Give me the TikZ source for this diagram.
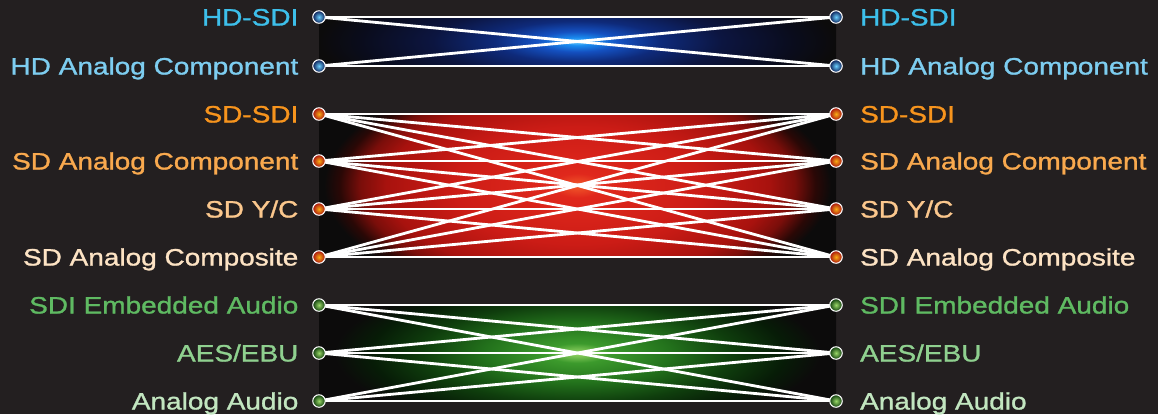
\documentclass[tikz,border=0pt]{standalone}
\usepackage{fontspec}
\setmainfont{Liberation Sans}[FakeStretch=1.18,FakeBold=1.2]
\usepackage{tikz}
\usetikzlibrary{positioning,backgrounds}
\definecolor{mxbg}{HTML}{231F20}
\definecolor{mxedge}{HTML}{0C0B0B}
% label colours
\definecolor{hdone}{HTML}{3DBFEA}
\definecolor{hdtwo}{HTML}{7DCDF0}
\definecolor{sdone}{HTML}{F7941D}
\definecolor{sdtwo}{HTML}{F9A94E}
\definecolor{sdthree}{HTML}{FBC78D}
\definecolor{sdfour}{HTML}{FDE3C4}
\definecolor{auone}{HTML}{5FBA62}
\definecolor{autwo}{HTML}{8FD08F}
\definecolor{authree}{HTML}{C2E6C0}
% glow colours
\definecolor{hdA}{HTML}{6CD0FF}
\definecolor{hdB}{HTML}{1A8CF0}
\definecolor{hdC}{HTML}{1450C0}
\definecolor{hdD}{HTML}{0E2A7A}
\definecolor{hdE}{HTML}{0C1540}
\definecolor{hdF}{HTML}{0A0C1C}
\definecolor{sdA}{HTML}{F25A2A}
\definecolor{sdB}{HTML}{E0281C}
\definecolor{sdC}{HTML}{CC1C16}
\definecolor{sdD}{HTML}{A8120E}
\definecolor{sdE}{HTML}{7A0E0A}
\definecolor{sdF}{HTML}{2A0806}
\definecolor{auA}{HTML}{9AD868}
\definecolor{auB}{HTML}{3C9A2C}
\definecolor{auC}{HTML}{23721C}
\definecolor{auD}{HTML}{0F3E0D}
\definecolor{auE}{HTML}{071C07}
% the central 50bp square of a shading is fitted to the path
\pgfdeclareradialshading{hdglow}{\pgfpoint{0bp}{0bp}}{color(0bp)=(hdA); color(1.5bp)=(hdB); color(4bp)=(hdC); color(8bp)=(hdD); color(14bp)=(hdE); color(21bp)=(hdF); color(25bp)=(mxedge); color(50bp)=(mxedge)}
\pgfdeclareradialshading{sdglow}{\pgfpoint{0bp}{0bp}}{color(0bp)=(sdA); color(2.5bp)=(sdB); color(12bp)=(sdC); color(18.5bp)=(sdD); color(21bp)=(sdE); color(23bp)=(sdF); color(24.5bp)=(mxedge); color(50bp)=(mxedge)}
\pgfdeclareradialshading{auglow}{\pgfpoint{0bp}{0bp}}{color(0bp)=(auA); color(3bp)=(auB); color(9bp)=(auC); color(15bp)=(auD); color(20bp)=(auE); color(23.5bp)=(mxedge); color(50bp)=(mxedge)}

\begin{document}
\begin{tikzpicture}[
  x=0.02cm,y=-0.02cm,
  every node/.style={font=\fontsize{13.5}{16}\selectfont},
  port/.style={circle,draw=white,line width=0.6pt,minimum size=0.25cm,inner sep=0pt},
  hdport/.style={port,inner color=hdA,outer color=hdD!70!black},
  sdport/.style={port,inner color=sdA!50!yellow,outer color=sdD},
  auport/.style={port,inner color=auA,outer color=auD},
  lbl/.style={inner sep=0pt,text height=0.34cm,text depth=0pt},
  wire/.style={draw=white,line width=1.6pt}
]
\useasboundingbox (0,0) rectangle (1158,414);

%% ---- backdrop and glow panels ----
\begin{scope}[on background layer]
\fill[mxbg] (0,0) rectangle (1158,414);
\foreach \ya/\yb/\glow/\f in {17/66/hdglow/2.6,114/257/sdglow/1.7,305/401/auglow/1.7}{
  \pgfmathsetmacro{\yc}{(\ya+\yb)/2}
  \pgfmathsetmacro{\hh}{(\yb-\ya)/2*\f}
  \begin{scope}
    \clip (319,\ya) rectangle (836,\yb);
    \shade[shading=\glow] (319,\yc-\hh) rectangle (836,\yc+\hh);
  \end{scope}
}
\end{scope}

%% ---- ports ----
\foreach \i/\y/\st in {1/17/hdport,2/66/hdport,3/114/sdport,4/161/sdport,5/209/sdport,
                       6/257/sdport,7/305/auport,8/353/auport,9/401/auport}{
  \node[\st] (in\i)  at (319,\y) {};
  \node[\st] (out\i) at (836,\y) {};
}

%% ---- labels ----
\foreach \i/\txt/\col in {1/HD-SDI/hdone,2/HD Analog Component/hdtwo,3/SD-SDI/sdone,
      4/SD Analog Component/sdtwo,5/{SD Y/C}/sdthree,6/SD Analog Composite/sdfour,
      7/SDI Embedded Audio/auone,8/{AES/EBU}/autwo,9/Analog Audio/authree}{
  \node[lbl,text=\col,left=0.27cm of in\i] (inlbl\i) {\txt};
  \node[lbl,text=\col,right=0.34cm of out\i] (outlbl\i) {\txt};
}

%% ---- routing wires ----
\begin{scope}[on background layer]
\foreach \lo/\hi in {1/2,3/6,7/9}{
  \foreach \a in {\lo,...,\hi}{
    \foreach \b in {\lo,...,\hi}{
      \draw[wire] (in\a.center) -- (out\b.center);
    }
  }
}
\end{scope}

\end{tikzpicture}
\end{document}
